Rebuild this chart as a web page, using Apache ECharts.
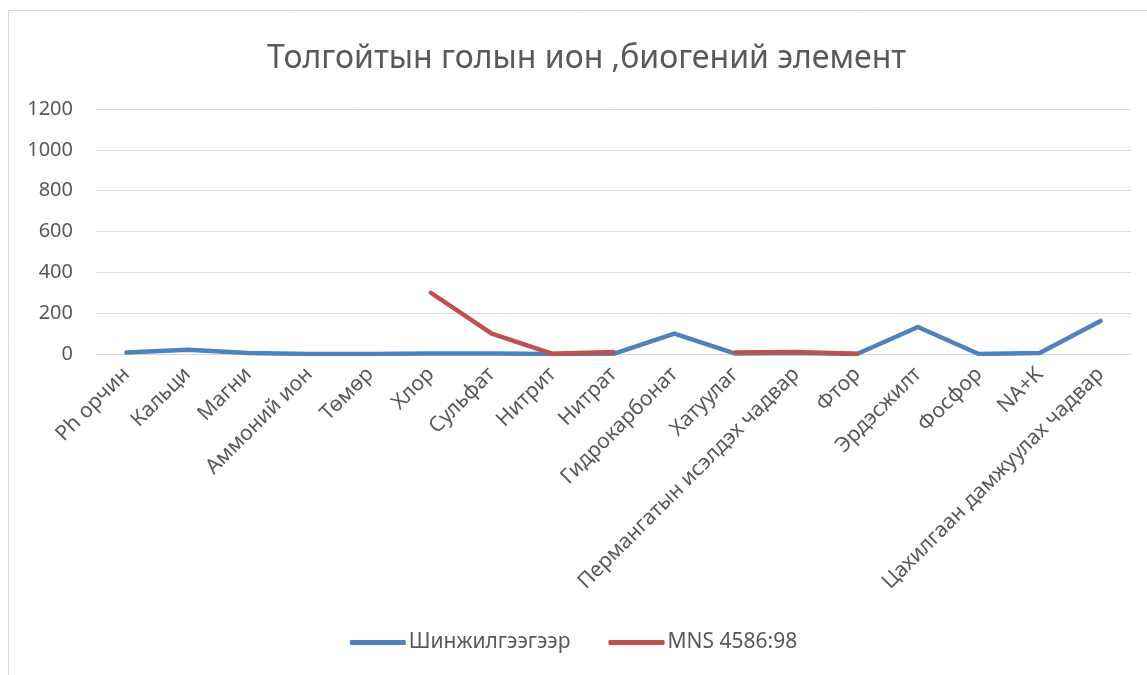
<!DOCTYPE html>
<html>
<head>
<meta charset="utf-8">
<script src="https://cdn.jsdelivr.net/npm/echarts@6/dist/echarts.min.js"></script>
<style>
  * { margin: 0; padding: 0; }
  body { background: #fff; }
</style>
</head>
<body>
<!--chart container-->
<div id="main" style="width: 1147px;height: 675px;"></div>
<script>
var categories = ['Ph орчин', 'Кальци', 'Магни', 'Аммоний ион', 'Төмөр', 'Хлор', 'Сульфат', 'Нитрит', 'Нитрат',
  'Гидрокарбонат', 'Хатуулаг', 'Пермангатын исэлдэх чадвар', 'Фтор', 'Эрдэсжилт', 'Фосфор', 'NA+K', 'Цахилгаан дамжуулах чадвар'];
var measured = [7, 21, 5, 0.5, 0.3, 2, 3, 0.1, 1, 100, 2, 5, 0.3, 132, 0.1, 5, 162];
var standard = [null, null, null, null, null, 300, 100, 1, 10, null, 7, 10, 1.5, null, null, null, null];
var yTicks = [0, 200, 400, 600, 800, 1000, 1200];

var textColor = '#595959';
var font = 'Noto Sans';

var chart = echarts.init(document.getElementById('main'));
chart.setOption({
  animation: false,
  title: {
    text: 'Толгойтын голын ион ,биогений элемент',
    left: 262,
    top: 38,
    textStyle: { color: textColor, fontFamily: font, fontSize: 32, fontWeight: 'normal' }
  },
  graphic: [{
    type: 'rect',
    shape: { x: 8.5, y: 10.5, width: 1150, height: 670 },
    style: { fill: 'none', stroke: '#d9d9d9', lineWidth: 1 }
  }],
  legend: {
    bottom: 17,
    left: 'center',
    icon: 'roundRect',
    itemWidth: 56,
    itemHeight: 5,
    itemGap: 38,
    textStyle: { color: textColor, fontFamily: font, fontSize: 21, padding: [0, 0, 0, -2] },
    data: ['Шинжилгээгээр', 'MNS 4586:98']
  },
  grid: { left: 96, right: 16, top: 109, bottom: 321 },
  xAxis: {
    type: 'category',
    data: categories,
    boundaryGap: true,
    axisLine: { lineStyle: { color: '#d9d9d9' } },
    axisTick: { show: false },
    axisLabel: { rotate: 45, interval: 0, color: textColor, fontFamily: font, fontSize: 21, margin: 17 }
  },
  yAxis: {
    type: 'value',
    min: yTicks[0],
    max: yTicks[yTicks.length - 1],
    interval: 200,
    axisLine: { show: false },
    axisTick: { show: false },
    splitLine: { lineStyle: { color: '#d9d9d9' } },
    axisLabel: { color: textColor, fontFamily: font, fontSize: 20, margin: 23, formatter: function (v) { return String(v); } }
  },
  series: [
    {
      name: 'Шинжилгээгээр',
      type: 'line',
      data: measured,
      symbol: 'none',
      lineStyle: { color: '#4f81bd', width: 4.5, cap: 'round', join: 'round' },
      itemStyle: { color: '#4f81bd' }
    },
    {
      name: 'MNS 4586:98',
      type: 'line',
      data: standard,
      symbol: 'none',
      connectNulls: false,
      lineStyle: { color: '#c0504d', width: 4.5, cap: 'round', join: 'round' },
      itemStyle: { color: '#c0504d' }
    }
  ]
});
</script>
</body>
</html>
